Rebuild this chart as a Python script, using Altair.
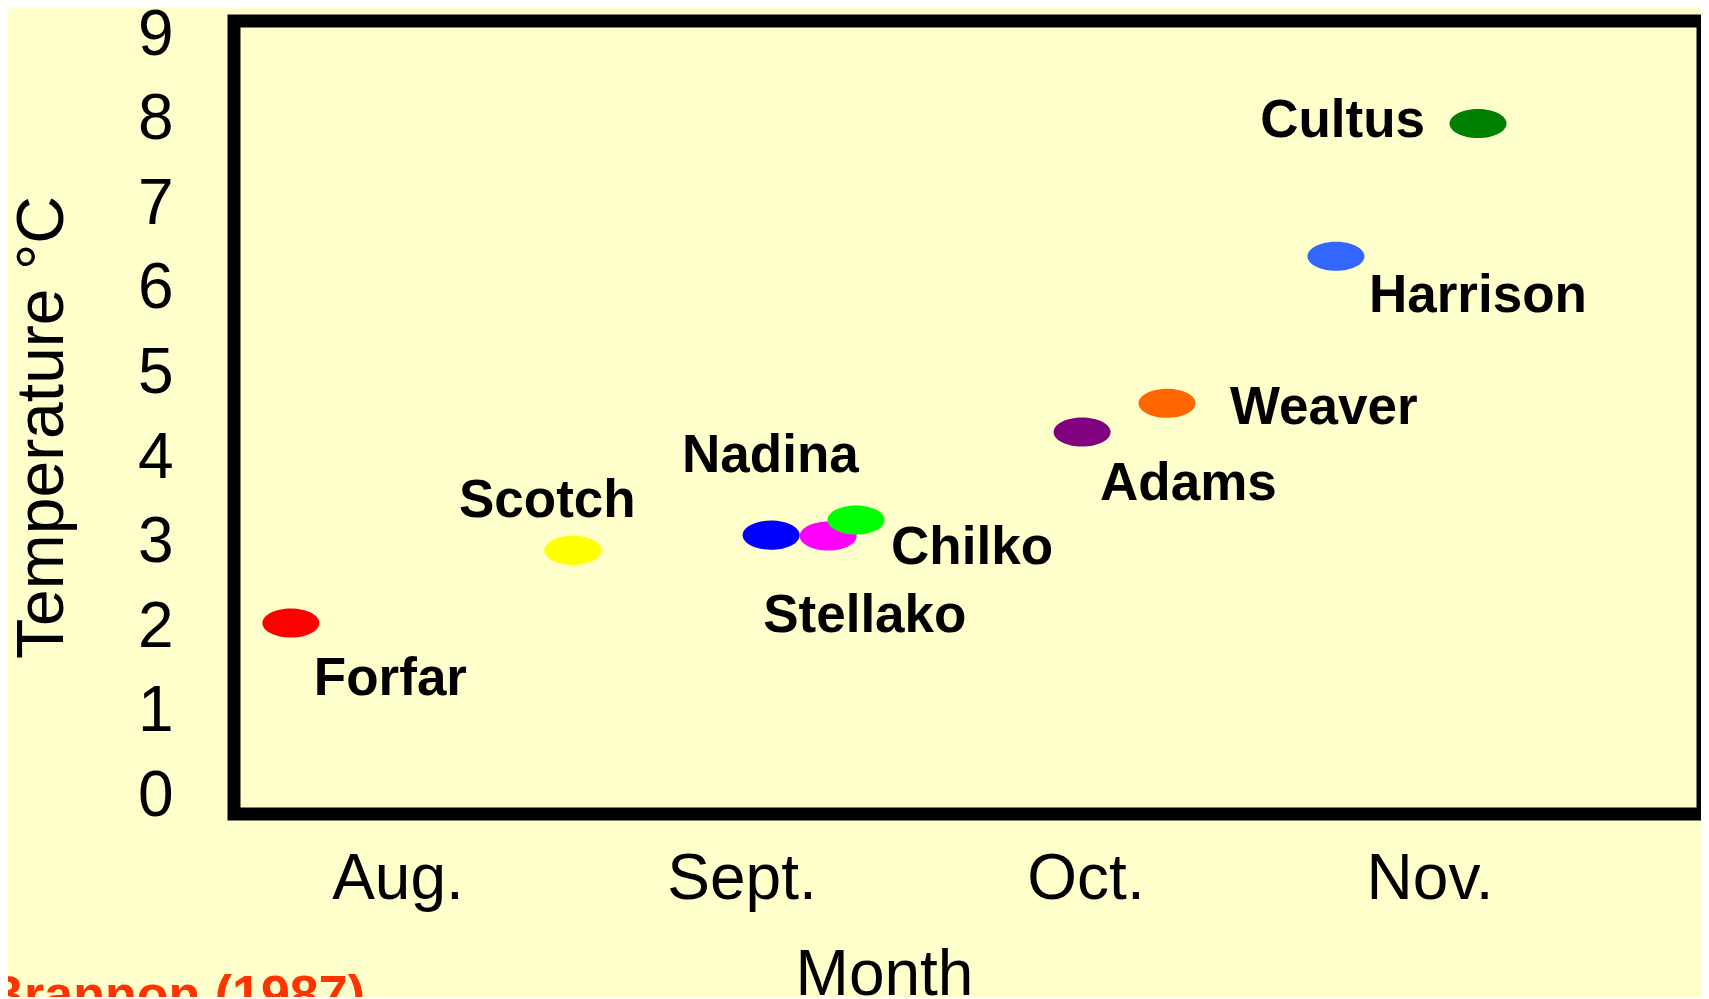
import altair as alt
import pandas as pd

# ---- data ----
stocks = ["Forfar", "Scotch", "Nadina", "Stellako", "Chilko", "Adams", "Weaver", "Harrison", "Cultus"]
month_pos = [7.69, 8.51, 9.086, 9.252, 9.333, 9.99, 10.237, 10.728, 11.141]   # 8 = Aug, 9 = Sept, ...
temperature = [2.00, 2.86, 3.04, 3.03, 3.22, 4.26, 4.60, 6.34, 7.91]
month_ticks = [8, 9, 10, 11]
month_labels = ["Aug.", "Sept.", "Oct.", "Nov."]
temp_ticks = [0, 1, 2, 3, 4, 5, 6, 7, 8, 9]
source_note = ["Brannon (1987)"]

# ---- styles ----
point_colors = ["#FF0000", "#FFFF00", "#0000FF", "#FF00FF", "#00FF00",
                "#800080", "#FF6600", "#3366FF", "#008000"]
# label placement (pixel offsets from the point centre), alignment
label_style = {
    "Forfar": (23, 72, "left"),
    "Scotch": (-114, -33, "left"),
    "Nadina": (-89, -63, "left"),
    "Stellako": (-65, 96, "left"),
    "Chilko": (35, 44, "left"),
    "Adams": (18, 68, "left"),
    "Weaver": (63, 21, "left"),
    "Harrison": (33, 56, "left"),
    "Cultus": (-53, 13, "right"),
}

FONT = "Liberation Sans"
BG = "#FFFFCC"

df = pd.DataFrame({"stock": stocks, "month": month_pos, "temp": temperature,
                   "order": list(range(len(stocks)))})

label_expr = "[" + ",".join("'" + m + "'" for m in month_labels) + "][datum.value - " + str(month_ticks[0]) + "]"

x_enc = alt.X(
    "month:Q",
    scale=alt.Scale(domain=[7.5247, 11.795], nice=False, zero=False),
    axis=alt.Axis(
        values=month_ticks, labelExpr=label_expr, title="Month",
        grid=False, ticks=False, domain=False, tickSize=0,
        labelPadding=84, labelBaseline="alphabetic", labelFontSize=64,
        labelFlush=False, labelOverlap=False, labelBound=False,
        titleFontSize=64, titleX=650, titleY=180, titleBaseline="alphabetic",
        titleAlign="center",
    ),
)
y_enc = alt.Y(
    "temp:Q",
    scale=alt.Scale(domain=[-0.26, 9.124], nice=False, zero=False),
    axis=alt.Axis(
        values=temp_ticks, format="d", title="Temperature °C",
        grid=False, ticks=False, domain=False, tickSize=0,
        labelPadding=61, labelBaseline="alphabetic", labelOffset=23,
        labelAlign="right", labelFontSize=64, labelFlush=False,
        labelOverlap=False, labelBound=False,
        titleFontSize=66, titleX=-172, titleY=406, titleAngle=270,
        titleBaseline="alphabetic", titleAlign="center",
    ),
)

ellipse = "M -1 0 A 1 0.51 0 1 0 1 0 A 1 0.51 0 1 0 -1 0 Z"

points = alt.Chart(df).mark_point(
    shape=ellipse, filled=True, size=3249, opacity=1, strokeWidth=0
).encode(
    x=x_enc,
    y=y_enc,
    fill=alt.Fill("stock:N", scale=alt.Scale(domain=stocks, range=point_colors), legend=None),
    order=alt.Order("order:Q"),
)

labels = []
for name in stocks:
    dx, dy, align = label_style[name]
    labels.append(
        alt.Chart(df).transform_filter(alt.datum.stock == name).mark_text(
            align=align, baseline="alphabetic", dx=dx, dy=dy,
            font=FONT, fontSize=53, fontWeight="bold", color="black",
        ).encode(x="month:Q", y="temp:Q", text="stock:N")
    )

note = alt.Chart(pd.DataFrame({"note": source_note})).mark_text(
    align="right", baseline="alphabetic", font=FONT, fontSize=52,
    fontWeight="bold", color="#FF3300",
).encode(text="note:N", x=alt.value(131), y=alt.value(991))

chart = alt.layer(points, *labels, note).properties(
    width=1469, height=793,
    autosize=alt.AutoSizeParams(type="none"),
    padding={"left": 226, "top": 13, "right": -2, "bottom": 183},
    background=BG,
).configure_view(
    stroke="black", strokeWidth=13, fill=BG,
).configure_axis(
    labelFont=FONT, titleFont=FONT, labelColor="black", titleColor="black",
    titleFontWeight="normal",
)

chart.save("out.html", embed_options={"renderer": "svg", "actions": False})
